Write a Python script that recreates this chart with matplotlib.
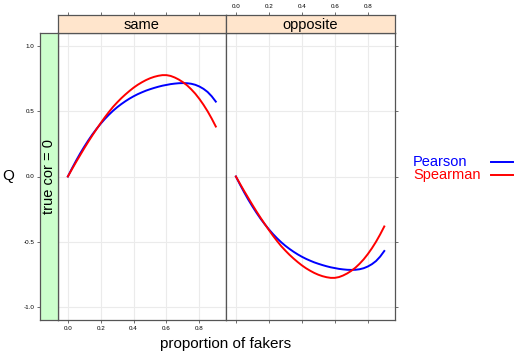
import numpy as np
import matplotlib
matplotlib.use("Agg")
import matplotlib.pyplot as plt
from matplotlib.lines import Line2D

plt.rcParams['font.family'] = ['Liberation Sans', 'DejaVu Sans']

# proportion of fakers
prop = [0.0, 0.025, 0.05, 0.075, 0.1, 0.125, 0.15, 0.175, 0.2, 0.225,
        0.25, 0.275, 0.3, 0.325, 0.35, 0.375, 0.4, 0.425, 0.45, 0.475,
        0.5, 0.525, 0.55, 0.575, 0.6, 0.625, 0.65, 0.675, 0.7, 0.725,
        0.75, 0.775, 0.8, 0.825, 0.85, 0.875, 0.9]

# panel "same"
same_pearson = [0.0, 0.062, 0.121, 0.177, 0.229, 0.278, 0.324, 0.366, 0.405, 0.441,
                0.474, 0.504, 0.531, 0.555, 0.577, 0.597, 0.615, 0.631, 0.645, 0.658,
                0.669, 0.679, 0.688, 0.696, 0.702, 0.708, 0.712, 0.715, 0.716, 0.715,
                0.711, 0.703, 0.690, 0.672, 0.648, 0.615, 0.574]
same_spearman = [0.0, 0.056, 0.111, 0.164, 0.217, 0.268, 0.317, 0.364, 0.410, 0.454,
                 0.495, 0.534, 0.568, 0.600, 0.629, 0.656, 0.681, 0.703, 0.722, 0.739,
                 0.753, 0.764, 0.772, 0.777, 0.777, 0.771, 0.759, 0.743, 0.723, 0.699,
                 0.669, 0.635, 0.595, 0.550, 0.500, 0.444, 0.383]

# panel "opposite"
opp_pearson = [0.0, -0.062, -0.121, -0.177, -0.229, -0.278, -0.324, -0.366, -0.405, -0.441,
               -0.474, -0.504, -0.531, -0.555, -0.577, -0.597, -0.615, -0.631, -0.645, -0.658,
               -0.669, -0.679, -0.688, -0.696, -0.702, -0.708, -0.712, -0.715, -0.716, -0.715,
               -0.711, -0.703, -0.690, -0.672, -0.648, -0.614, -0.571]
opp_spearman = [0.0, -0.056, -0.111, -0.164, -0.217, -0.268, -0.317, -0.364, -0.410, -0.454,
                -0.495, -0.534, -0.568, -0.600, -0.629, -0.656, -0.681, -0.703, -0.722, -0.739,
                -0.753, -0.764, -0.772, -0.777, -0.777, -0.771, -0.759, -0.743, -0.723, -0.699,
                -0.669, -0.635, -0.595, -0.550, -0.500, -0.444, -0.383]

panels = ["same", "opposite"]
row_label = "true cor = 0"
xticks = [0.0, 0.2, 0.4, 0.6, 0.8]
yticks = [-1.0, -0.5, 0.0, 0.5, 1.0]

W, H = 517, 357
fig = plt.figure(figsize=(W / 100, H / 100), dpi=100)

def box(x0, y0, x1, y1):
    # pixel box (top-left origin) -> figure fraction rect
    return [x0 / W, 1 - y1 / H, (x1 - x0) / W, (y1 - y0) / H]

frame_col = '#555555'
xlim = (-0.06, 0.962)
ylim = (-1.1, 1.1)
tick_kw = dict(labelsize=4.5, length=2.5, width=0.6, color=frame_col, pad=1.5)

ax1 = fig.add_axes(box(58, 33, 226, 320))
ax2 = fig.add_axes(box(226, 33, 394.5, 320))
st1 = fig.add_axes(box(58, 15, 226, 33))
st2 = fig.add_axes(box(226, 15, 394.5, 33))
green = fig.add_axes(box(40, 33, 58, 320))

for ax, pe, sp in [(ax1, same_pearson, same_spearman), (ax2, opp_pearson, opp_spearman)]:
    ax.set_xlim(*xlim)
    ax.set_ylim(*ylim)
    for v in xticks:
        ax.axvline(v, color='#ebebeb', lw=0.8, zorder=0)
    for v in yticks:
        ax.axhline(v, color='#ebebeb', lw=0.8, zorder=0)
    ax.plot(prop, pe, color='#0000ff', lw=1.4)
    ax.plot(prop, sp, color='#ff0000', lw=1.4)
    ax.set_xticks(xticks)
    ax.set_yticks(yticks)
    for s in ax.spines.values():
        s.set_color(frame_col)
        s.set_linewidth(0.9)

ax1.tick_params(axis='x', direction='out', **tick_kw)
ax1.tick_params(axis='y', left=False, labelleft=False)
ax1.set_xticklabels(["%.1f" % v for v in xticks])
ax2.tick_params(axis='x', direction='out', labelbottom=False, **tick_kw)
ax2.tick_params(axis='y', left=False, labelleft=False, right=True, direction='out', **tick_kw)
ax2.tick_params(axis='y', labelright=False)

for st, name in [(st1, panels[0]), (st2, panels[1])]:
    st.set_facecolor('#ffe5cc')
    st.set_xlim(*xlim)
    st.set_ylim(0, 1)
    st.set_xticks(xticks)
    st.set_yticks([])
    st.xaxis.tick_top()
    st.tick_params(axis='x', direction='out', labelbottom=False, bottom=False, **tick_kw)
    for s in st.spines.values():
        s.set_color(frame_col)
        s.set_linewidth(0.9)
    st.text(0.5, 0.45, name, transform=st.transAxes, ha='center', va='center', fontsize=10.5)
st1.tick_params(axis='x', labeltop=False)
st2.set_xticklabels(["%.1f" % v for v in xticks])

green.set_facecolor('#ccffcc')
green.set_xlim(0, 1)
green.set_ylim(*ylim)
green.set_xticks([])
green.set_yticks(yticks)
green.set_yticklabels(["%.1f" % v for v in yticks])
green.tick_params(axis='y', direction='out', **tick_kw)
for s in green.spines.values():
    s.set_color(frame_col)
    s.set_linewidth(0.9)
green.text(0.5, 0.5, row_label, transform=green.transAxes, rotation=90,
           ha='center', va='center', fontsize=10.5)

fig.text(8 / W, 1 - 176 / H, "Q", ha='center', va='center', fontsize=11)
fig.text(226 / W, 1 - 344 / H, "proportion of fakers", ha='center', va='center', fontsize=11)

# legend
fig.text(413 / W, 1 - 162 / H, "Pearson", color='#0000ff', ha='left', va='center', fontsize=10.5)
fig.text(413 / W, 1 - 175 / H, "Spearman", color='#ff0000', ha='left', va='center', fontsize=10.5)
fig.add_artist(Line2D([491 / W, 513 / W], [1 - 162 / H, 1 - 162 / H], color='#0000ff', lw=1.4))
fig.add_artist(Line2D([491 / W, 513 / W], [1 - 175 / H, 1 - 175 / H], color='#ff0000', lw=1.4))

fig.savefig("out.png", dpi=100)
